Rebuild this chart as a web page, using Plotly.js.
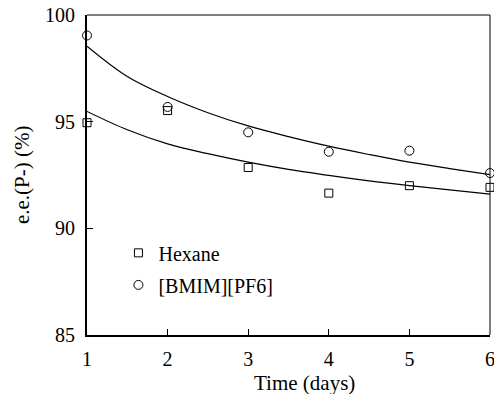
<!DOCTYPE html>
<html>
<head>
<meta charset="utf-8">
<script src="https://cdn.plot.ly/plotly-3.0.1.min.js"></script>
<style>html,body{margin:0;padding:0;background:#fff;}#chart{width:494px;height:394px;}</style>
</head>
<body>
<div id="chart"></div>
<script>
// Measured data points
const days = [1, 2, 3, 4, 5, 6];
const hexane = [94.95, 95.52, 92.85, 91.65, 92.0, 91.92];
const bmim = [99.04, 95.69, 94.5, 93.59, 93.64, 92.59];
// Fitted trend curves
const fitDays = [1, 1.5, 2, 2.5, 3, 3.5, 4, 4.5, 5, 5.5, 6];
const bmimFit = [98.54, 97.12, 96.18, 95.42, 94.8, 94.3, 93.85, 93.46, 93.1, 92.8, 92.52];
const hexaneFit = [95.48, 94.62, 93.96, 93.5, 93.1, 92.76, 92.48, 92.22, 92.0, 91.8, 91.6];
const seriesNames = ['Hexane', '[BMIM][PF6]'];
const xTicks = [1, 2, 3, 4, 5, 6];
const yTicks = [85, 90, 95, 100];

const font = "'Liberation Serif', 'Times New Roman', Times, serif";

const traces = [
  {x: fitDays, y: bmimFit, mode: 'lines', line: {color: '#000', width: 1.2, shape: 'spline'}, showlegend: false, hoverinfo: 'skip'},
  {x: fitDays, y: hexaneFit, mode: 'lines', line: {color: '#000', width: 1.2, shape: 'spline'}, showlegend: false, hoverinfo: 'skip'},
  {x: days, y: hexane, name: seriesNames[0], mode: 'markers', cliponaxis: false, legend: 'legend',
   marker: {symbol: 'square-open', size: 8, color: '#000', line: {width: 1, color: '#000'}}},
  {x: days, y: bmim, name: seriesNames[1], mode: 'markers', cliponaxis: false, legend: 'legend2',
   marker: {symbol: 'circle-open', size: 9, color: '#000', line: {width: 1, color: '#000'}}}
];

const legendCommon = {
  font: {family: font, size: 20, color: '#000', weight: 'normal'},
  bgcolor: 'rgba(0,0,0,0)', borderwidth: 0, xanchor: 'left', yanchor: 'middle',
  itemwidth: 30, tracegroupgap: 0
};

const layout = {
  width: 494, height: 394,
  margin: {l: 87, r: 4, t: 15, b: 59},
  paper_bgcolor: '#fff', plot_bgcolor: '#fff',
  font: {family: font, size: 20, color: '#000', weight: 'normal'},
  xaxis: {
    range: [1, 6], tickvals: xTicks, ticktext: xTicks.map(String),
    ticks: 'inside', ticklen: 6, tickwidth: 1, tickcolor: '#000',
    showline: true, linewidth: 2, linecolor: '#000', mirror: false,
    showgrid: false, zeroline: false, ticklabelstandoff: 5, ticklabeloverflow: 'allow',
    tickfont: {family: font, size: 20, color: '#000'}
  },
  yaxis: {
    range: [85, 100], tickvals: yTicks, ticktext: yTicks.map(String),
    ticks: 'inside', ticklen: 6, tickwidth: 1, tickcolor: '#000',
    showline: true, linewidth: 2, linecolor: '#000', mirror: false,
    showgrid: false, zeroline: false, ticklabelstandoff: 6, ticklabeloverflow: 'allow',
    tickfont: {family: font, size: 20, color: '#000'}
  },
  shapes: [
    {type: 'line', xref: 'paper', yref: 'paper', x0: 0, x1: 1, y0: 1, y1: 1, line: {color: '#000', width: 1}},
    {type: 'line', xref: 'paper', yref: 'paper', x0: 1, x1: 1, y0: 0, y1: 1, line: {color: '#000', width: 1}}
  ],
  annotations: [
    {text: 'Time (days)', xref: 'paper', yref: 'paper', x: 0.5385, y: -0.15, xanchor: 'center', yanchor: 'middle',
     showarrow: false, font: {family: font, size: 21, color: '#000'}},
    {text: 'e.e.(P-) (%)', xref: 'paper', yref: 'paper', x: -0.161, y: 0.5, xanchor: 'center', yanchor: 'middle',
     textangle: -90, showarrow: false, font: {family: font, size: 21, color: '#000'}}
  ],
  legend: Object.assign({}, legendCommon, {x: 0.078, y: 0.2567}),
  legend2: Object.assign({}, legendCommon, {x: 0.078, y: 0.1565}),
  showlegend: true
};

Plotly.newPlot('chart', traces, layout, {displayModeBar: false, staticPlot: true});
</script>
</body>
</html>
